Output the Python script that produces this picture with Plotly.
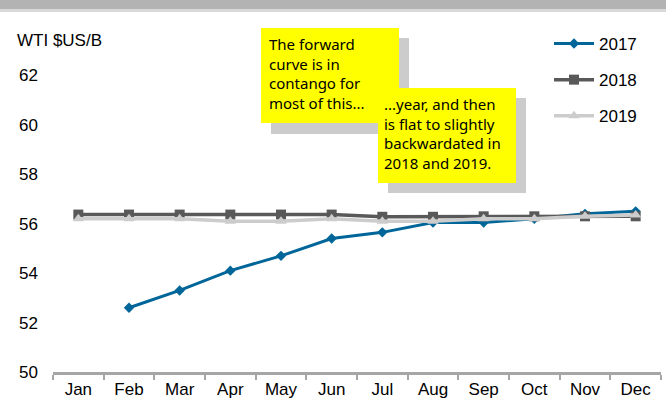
import plotly.graph_objects as go

months = ["Jan", "Feb", "Mar", "Apr", "May", "Jun", "Jul", "Aug", "Sep", "Oct", "Nov", "Dec"]
wti_2017 = [None, 52.6, 53.3, 54.1, 54.7, 55.4, 55.65, 56.05, 56.05, 56.2, 56.4, 56.5]
wti_2018 = [56.37, 56.37, 56.37, 56.37, 56.37, 56.37, 56.28, 56.28, 56.3, 56.3, 56.3, 56.3]
wti_2019 = [56.2, 56.2, 56.2, 56.1, 56.1, 56.2, 56.1, 56.1, 56.2, 56.2, 56.3, 56.35]
y_ticks = [50, 52, 54, 56, 58, 60, 62]

W, H = 666, 407
L, R, T, B = 53, 5, 26, 35
PW, PH = W - L - R, H - T - B


def px_x(px):
    return (px - L) / PW


def px_y(py):
    return (H - B - py) / PH


fig = go.Figure()
fig.add_trace(go.Scatter(x=months, y=wti_2017, name="2017", mode="lines+markers",
                         line=dict(color="#006699", width=3),
                         marker=dict(symbol="diamond", size=8, color="#006699"),
                         legendgroup="a"))
fig.add_trace(go.Scatter(x=months, y=wti_2018, name="2018", mode="lines+markers",
                         line=dict(color="#595959", width=3.5),
                         marker=dict(symbol="square", size=10, color="#595959"),
                         legendgroup="b"))
fig.add_trace(go.Scatter(x=months, y=wti_2019, name="2019", mode="lines+markers",
                         line=dict(color="#cccccc", width=3.5),
                         marker=dict(symbol="triangle-up", size=10, color="#cccccc"),
                         legendgroup="c"))

shapes = [
    # top banner
    dict(type="rect", xref="paper", yref="paper", x0=px_x(0), x1=px_x(W), y0=px_y(9), y1=px_y(0),
         fillcolor="#b3b3b3", line_width=0, layer="above"),
    dict(type="rect", xref="paper", yref="paper", x0=px_x(0), x1=px_x(W), y0=px_y(12), y1=px_y(9),
         fillcolor="#d9d9d9", line_width=0, layer="above"),
    # box 1 shadow + box
    dict(type="rect", xref="paper", yref="paper", x0=px_x(271), x1=px_x(409), y0=px_y(134), y1=px_y(38),
         fillcolor="#cccccc", line_width=0, layer="above"),
    dict(type="rect", xref="paper", yref="paper", x0=px_x(261), x1=px_x(399), y0=px_y(123), y1=px_y(28),
         fillcolor="#ffff00", line_width=0, layer="above"),
    # box 2 shadow + box
    dict(type="rect", xref="paper", yref="paper", x0=px_x(388), x1=px_x(526), y0=px_y(193), y1=px_y(98),
         fillcolor="#cccccc", line_width=0, layer="above"),
    dict(type="rect", xref="paper", yref="paper", x0=px_x(378), x1=px_x(516), y0=px_y(183), y1=px_y(88),
         fillcolor="#ffff00", line_width=0, layer="above"),
]

note_font = dict(family="Comic Sans MS, Noto Sans, sans-serif", size=15, color="#000000")
annotations = [
    dict(text="WTI $US/B", xref="paper", yref="paper", x=px_x(15), y=px_y(41), xanchor="left",
         yanchor="middle", showarrow=False, font=dict(family="Liberation Sans, Arial", size=17, color="#000")),
    dict(text="The forward<br>curve is in<br>contango for<br>most of this...", xref="paper", yref="paper",
         x=px_x(267), y=px_y(32), xanchor="left", yanchor="top", align="left", showarrow=False,
         font=note_font),
    dict(text="...year, and then<br>is flat to slightly<br>backwardated in<br>2018 and 2019.", xref="paper",
         yref="paper", x=px_x(382), y=px_y(92), xanchor="left", yanchor="top", align="left", showarrow=False,
         font=note_font),
]

fig.update_layout(
    width=W, height=H,
    margin=dict(l=L, r=R, t=T, b=B),
    paper_bgcolor="white", plot_bgcolor="white",
    font=dict(family="Liberation Sans, Arial", size=17, color="#000"),
    showlegend=True,
    legend=dict(x=px_x(549), y=px_y(26), xanchor="left", yanchor="top",
                font=dict(size=17), tracegroupgap=11, bgcolor="rgba(0,0,0,0)", itemwidth=40),
    shapes=shapes,
    annotations=annotations,
)
fig.update_xaxes(type="category", categoryorder="array", categoryarray=months, range=[-0.5, 11.5],
                 showgrid=False, showline=True, linecolor="#a6a6a6", linewidth=3,
                 ticks="outside", tickson="boundaries", ticklen=5, tickwidth=2, tickcolor="#a6a6a6",
                 tickfont=dict(size=17, color="#000"), zeroline=False)
fig.update_yaxes(range=[50, 64], tickvals=y_ticks, showgrid=False, showline=False, zeroline=False,
                 ticks="", ticklabelstandoff=14, tickfont=dict(size=17, color="#000"))

fig.write_html("out.html", config={"displayModeBar": False},
               post_script="document.body.style.margin='0px';")
